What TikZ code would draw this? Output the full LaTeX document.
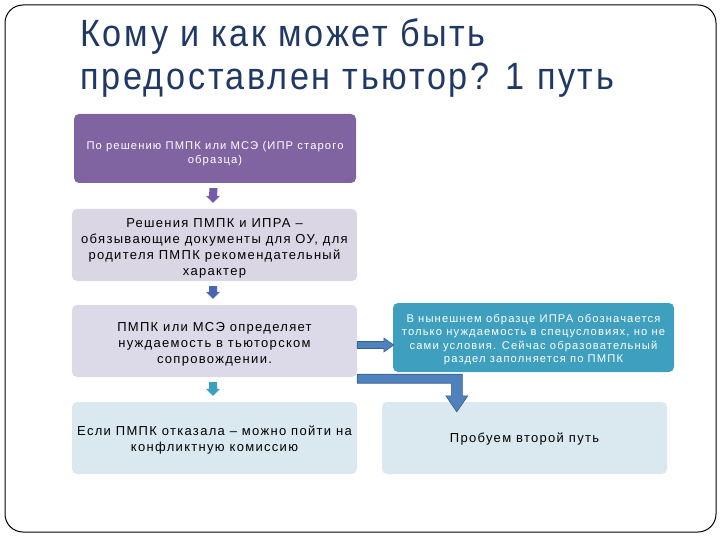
\documentclass[tikz,border=0pt]{standalone}
\usepackage{fontspec}
\setmainfont[LetterSpace=10]{Liberation Sans}
\newfontfamily\titlefont[FakeStretch=0.9,LetterSpace=7]{Liberation Sans}
\usetikzlibrary{calc}
\definecolor{titleblue}{RGB}{31,56,100}
\definecolor{purplebox}{RGB}{128,100,162}
\definecolor{lavbox}{RGB}{218,214,228}
\definecolor{lavbox2}{RGB}{220,217,232}
\definecolor{tealbox}{RGB}{62,160,190}
\definecolor{lblue}{RGB}{218,232,239}
\definecolor{arrpurple}{RGB}{120,90,170}
\definecolor{arrblue}{RGB}{75,100,180}
\definecolor{arrteal}{RGB}{60,160,195}
\definecolor{steel}{RGB}{79,129,189}
\definecolor{steeldark}{RGB}{56,93,138}
\tikzset{
  x=1pt,y=-1pt,
  box/.style={rounded corners=5pt, minimum width=285pt, minimum height=72pt, inner sep=0pt},
  txt/.style={align=center, inner sep=0pt},
  big/.style={txt, font=\fontsize{13}{16}\selectfont},
  small/.style={txt, text=white, font=\fontsize{11.2}{13.3}\selectfont},
  ttl/.style={anchor=base west, text=titleblue, font=\titlefont\fontsize{38}{38}\selectfont, inner sep=0}
}
\begin{document}
\begin{tikzpicture}
\useasboundingbox (0,0) rectangle (720,540);
\draw[line width=1pt, rounded corners=18pt] (5,5) rectangle (716,532);
\node[ttl] (t1) at (80,47) {Кому и как может быть};
\node[ttl] (t2) at (80,90) {предоставлен тьютор? 1 путь};
\node[box, fill=purplebox, minimum width=282pt, minimum height=69pt] (b1) at (215,148.5) {};
\node[small] (b1t) at ($(b1)+(0,5)$) {По решению ПМПК или МСЭ (ИПР старого\\ образца)};
\node[box, fill=lavbox] (b2) at (214.5,245) {};
\node[big] (b2t) at ($(b2)+(0,3.5)$) {Решения ПМПК и ИПРА –\\ обязывающие документы для ОУ, для\\ родителя ПМПК рекомендательный\\ характер};
\node[box, fill=lavbox2] (b3) at (214.5,341) {};
\node[big] (b3t) at ($(b3)+(0,3)$) {ПМПК или МСЭ определяет\\ нуждаемость в тьюторском\\ сопровождении.};
\node[box, fill=tealbox, minimum width=281pt, minimum height=69pt] (b4) at (533.5,337.5) {};
\node[small] (b4t) at ($(b4)+(0,2)$) {В нынешнем образце ИПРА обозначается\\ только нуждаемость в спецусловиях, но не\\ сами условия. Сейчас образовательный\\ раздел заполняется по ПМПК};
\node[box, fill=lblue] (b5) at (214.5,438) {};
\node[big] (b5t) at ($(b5)+(0,2.5)$) {Если ПМПК отказала – можно пойти на\\ конфликтную комиссию};
\node[box, fill=lblue] (b6) at (524.5,438) {};
\node[big] (b6t) at ($(b6)+(0,1)$) {Пробуем второй путь};
% small down arrows
\foreach \a/\b/\c in {b1/b2/arrpurple, b2/b3/arrblue, b3/b5/arrteal}{
  \coordinate (s) at ($(\a.south)+(-1.5,5)$);
  \coordinate (e) at ($(\b.north)+(-1.5,-6)$);
  \fill[\c] ($(s)+(-4,0)$) -- ($(s)+(4,0)$) -- ($(e)+(4,-7)$) -- ($(e)+(7,-7)$) -- (e) -- ($(e)+(-7,-7)$) -- ($(e)+(-4,-7)$) -- cycle;
}
% right arrow b3 -> b4
\coordinate (ra) at ($(b3.east)+(0,4)$);
\coordinate (rb) at (b4.west |- ra);
\filldraw[fill=steel, draw=steeldark, line width=0.6pt] (ra) ++(0,-3.5) -- ($(rb)+(-9,-3.5)$) -- ($(rb)+(-9,-7)$) -- ($(rb)+(1,0)$) -- ($(rb)+(-9,7)$) -- ($(rb)+(-9,3.5)$) -- ($(ra)+(0,3.5)$) -- cycle;
% elbow arrow b3 -> b6
\coordinate (ea) at ($(b3.south east)+(0,1.5)$);
\coordinate (eb) at ($(b6.north west)+(75,10)$);
\filldraw[fill=steel, draw=steeldark, line width=0.6pt] ($(ea)+(0,-4.5)$) -- ($(eb |- ea)+(5.5,-4.5)$) -- ($(eb)+(5.5,-16)$) -- ($(eb)+(11,-16)$) -- (eb) -- ($(eb)+(-11,-16)$) -- ($(eb)+(-5.5,-16)$) -- ($(eb |- ea)+(-5.5,4.5)$) -- ($(ea)+(0,4.5)$) -- cycle;
\end{tikzpicture}
\end{document}
